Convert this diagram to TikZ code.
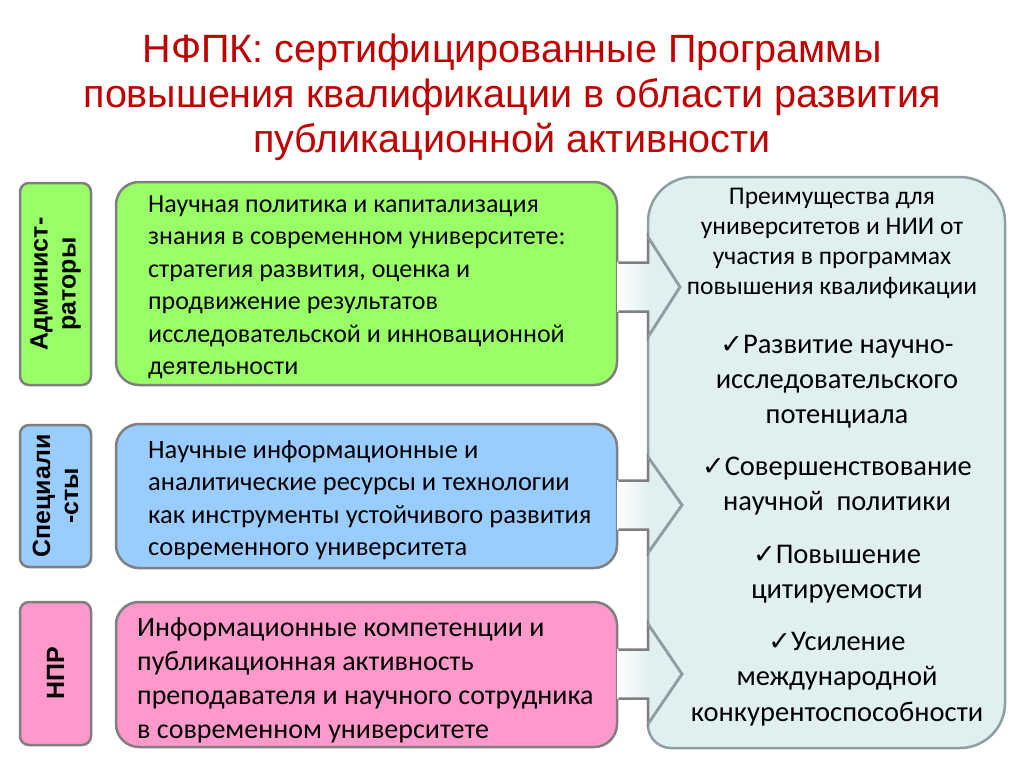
\documentclass[tikz,border=0pt]{standalone}
\usepackage{fontspec}
\setmainfont{Carlito}
\newfontfamily\arialf{Liberation Sans}
\newfontfamily\dejavu{DejaVu Sans}
\usetikzlibrary{calc}
\definecolor{grn}{HTML}{99FF66}
\definecolor{blu}{HTML}{99CCFF}
\definecolor{pnk}{HTML}{FF99CC}
\definecolor{pnl}{HTML}{E0F0F0}
\definecolor{bord}{HTML}{7F7F7F}
\definecolor{pbord}{HTML}{8CA0A3}
\definecolor{ttl}{HTML}{C00000}
\newcommand\ts{\rule{0pt}{32pt}}
\newcommand\ck{{\dejavu\fontsize{27}{27}\selectfont ✓}}
\begin{document}
\begin{tikzpicture}[x=1pt,y=-1pt,
  mainbox/.style={draw=bord, line width=2.5pt, rounded corners=23pt, inner sep=0pt, minimum width=501pt},
  lblbox/.style={draw=bord, line width=2.5pt, rounded corners=9pt, inner sep=0pt, minimum width=71pt},
  lbltext/.style={rotate=90, align=center, inner sep=0pt, font=\arialf\bfseries\fontsize{25}{28}\selectfont},
  boxtext/.style={anchor=north west, align=left, inner sep=0pt},
  pnltext/.style={anchor=north, align=center, inner sep=0pt},
  arrline/.style={draw=bord, line width=2.5pt, line join=miter},
  panelline/.style={draw=pbord, line width=2.5pt}]
\useasboundingbox[fill=white] (0,0) rectangle (1024,768);

% title
\node[pnltext, text=ttl, font=\arialf\fontsize{39.5}{45}\selectfont] (title) at (512,30)
  {\ts НФПК: сертифицированные Программы\\повышения квалификации в области развития\\публикационной активности};

% panel
\filldraw[fill=pnl, panelline] (648,222) arc[start angle=180,end angle=270,radius=45]
  -- (960,177) arc[start angle=270,end angle=360,radius=45]
  -- (1005,703) arc[start angle=0,end angle=90,radius=45]
  -- (671,748) arc[start angle=90,end angle=180,radius=23]
  -- cycle;

% boxes
\node[mainbox, fill=grn, minimum height=203pt] (g) at (366.5,283.5) {};
\node[mainbox, fill=blu, minimum height=144pt] (b) at (366.5,496) {};
\node[mainbox, fill=pnk, minimum height=145pt] (p) at (366.5,674.5) {};

% arrows from boxes into the panel
\coordinate (t1) at (680,287);
\coordinate (t2) at (682,505);
\coordinate (t3) at (682,674);
\foreach \bx/\tp/\hh in {g/t1/50, b/t2/48, p/t3/50}{
  \shade[left color=white, right color=pnl]
    ($(\bx.east|-\tp)+(-1.2,-24.5)$) rectangle ($(648,0|-\tp)+(1.3,24.5)$);
  \fill[pnl] ($(648,0|-\tp)+(1.2,-\hh)$) -- (\tp) -- ($(648,0|-\tp)+(1.2,\hh)$) -- cycle;
  \draw[arrline] ($(\bx.east|-\tp)+(0,-24.5)$) -- ($(648,0|-\tp)+(0,-24.5)$)
    -- ($(648,0|-\tp)+(0,-\hh)$) -- (\tp) -- ($(648,0|-\tp)+(0,\hh)$)
    -- ($(648,0|-\tp)+(0,24.5)$) -- ($(\bx.east|-\tp)+(0,24.5)$);
}
\draw[panelline] (648,237) -- (t1) -- (648,337);
\draw[panelline] (648,457) -- (t2) -- (648,553);
\draw[panelline] (648,624) -- (t3) -- (648,724);

% labels
\node[lblbox, fill=grn, minimum height=202pt] (lg) at (55.5,284) {};
\node[lblbox, fill=blu, minimum height=142pt] (lb) at (55.5,496) {};
\node[lblbox, fill=pnk, minimum height=143pt] (lp) at (55.5,673.5) {};
\node[lbltext] (lgt) at (lg) {Админист-\\раторы};
\node[lbltext] (lbt) at (lb) {Специали\\-сты};
\node[lbltext] (lpt) at (lp) {НПР};

% box texts
\node[boxtext, font=\fontsize{26}{32.5}\selectfont] (gt) at (148,180)
  {\ts Научная политика и капитализация\\знания в современном университете:\\стратегия развития, оценка и\\продвижение результатов\\исследовательской и инновационной\\деятельности};
\node[boxtext, font=\fontsize{26.5}{32.5}\selectfont] (bt) at (148,426)
  {\ts Научные информационные и\\аналитические ресурсы и технологии\\как инструменты устойчивого развития\\современного университета};
\node[boxtext, font=\fontsize{28}{34}\selectfont] (pt) at (137,604)
  {\ts Информационные компетенции и\\публикационная активность\\преподавателя и научного сотрудника\\в современном университете};

% panel texts
\node[pnltext, font=\fontsize{25.5}{30}\selectfont] (hd) at (832,172)
  {\ts Преимущества для\\университетов и НИИ от\\участия в программах\\повышения квалификации};
\node[pnltext, font=\fontsize{28.5}{35}\selectfont] (i1) at (837,321)
  {\ts\ck Развитие научно-\\исследовательского\\потенциала};
\node[pnltext, font=\fontsize{28.5}{35}\selectfont] (i2) at (837,443)
  {\ts\ck Совершенствование\\научной\ \ политики};
\node[pnltext, font=\fontsize{28.5}{35}\selectfont] (i3) at (837,531)
  {\ts\ck Повышение\\цитируемости};
\node[pnltext, font=\fontsize{28.5}{35.5}\selectfont] (i4) at (837,618)
  {\ts\ck Усиление\\международной\\конкурентоспособности};
\end{tikzpicture}
\end{document}
